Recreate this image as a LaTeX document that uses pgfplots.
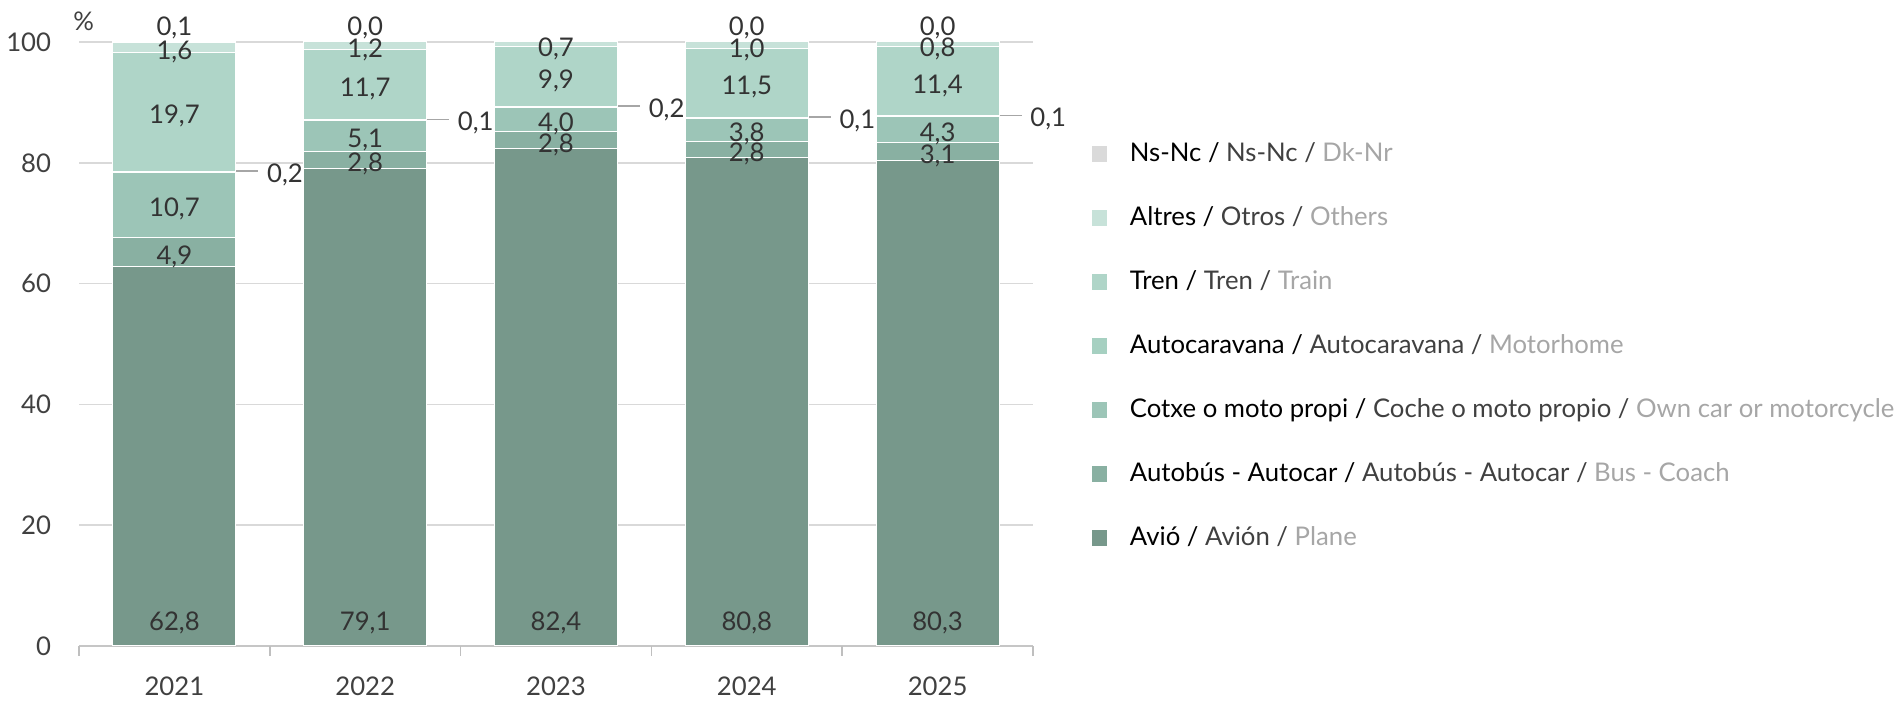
\documentclass[border=0pt]{standalone}
\usepackage{pgfplots}
\pgfplotsset{compat=1.18}
\usepackage{fontspec}
\setmainfont{Lato}

\definecolor{avio}{HTML}{77988B}
\definecolor{bus}{HTML}{89B0A2}
\definecolor{cotxe}{HTML}{9CC5B7}
\definecolor{caravana}{HTML}{A6D0C1}
\definecolor{tren}{HTML}{AFD5C8}
\definecolor{altres}{HTML}{C7E2D9}
\definecolor{nsnc}{HTML}{DADADA}
\definecolor{txt}{HTML}{333333}
\definecolor{gmid}{HTML}{404040}
\definecolor{glight}{HTML}{A6A6A6}
\definecolor{gridc}{HTML}{D9D9D9}

% labels of stacked segments already sit at the middle of the segment
\pgfplotsset{
  seg/.style={fill=#1, draw=white, line width=0.35pt,
    nodes near coords, point meta=rawy,
    every node near coord/.append style={anchor=center, inner sep=0pt,
      text depth=0pt, text=txt, yshift=-1pt,
      /pgf/number format/.cd, use comma, fixed, fixed zerofill, precision=1}},
  base/.style={fill=#1, draw=white, line width=0.35pt,
    nodes near coords, point meta=rawy,
    visualization depends on={rawy \as \rawy},
    every node near coord/.append style={anchor=center, inner sep=0pt,
      text depth=0pt, text=txt, yshift=8.67pt-1.057pt*\rawy,
      /pgf/number format/.cd, use comma, fixed, fixed zerofill, precision=1}},
  side/.style={fill=#1, draw=white, line width=0.35pt,
    nodes near coords={\textcolor{glight}{\rule[3.7pt]{7.7pt}{0.5pt}}\hspace{3.1pt}\pgfmathprintnumber{\pgfplotspointmeta}},
    point meta=rawy,
    every node near coord/.append style={anchor=base west, inner sep=0pt,
      text=txt, xshift=21.5pt, yshift=-3.7pt,
      /pgf/number format/.cd, use comma, fixed, fixed zerofill, precision=1}},
  top/.style={fill=#1, draw=white, line width=0.35pt,
    nodes near coords, point meta=explicit symbolic,
    every node near coord/.append style={anchor=base, inner sep=0pt,
      text=txt, yshift=2.4pt}},
}

\begin{document}
\fontsize{9}{11}\selectfont
\begin{tikzpicture}
\useasboundingbox (-27.65pt,-19.25pt) rectangle (638.4pt,226.1pt);
\begin{axis}[
    width=333.9pt,
    height=211.4pt,
    scale only axis,
    ybar stacked,
    bar width=0.645,
    xmin=-0.5, xmax=4.5,
    ymin=0, ymax=100,
    clip=false,
    xtick={0,...,4},
    xticklabels={2021,2022,2023,2024,2025},
    ytick={0,20,...,100},
    major tick length=0pt,
    extra x ticks={-0.5,0.5,...,4.5},
    extra x tick labels={},
    extra x tick style={major tick length=3.5pt, tick align=outside},
    tick style={draw=gray!50, line width=0.5pt},
    axis x line*=bottom,
    axis y line*=left,
    x axis line style={draw=gray!45, line width=0.5pt},
    y axis line style={draw=none},
    ymajorgrids,
    grid style={draw=gridc, line width=0.5pt},
    xticklabel style={anchor=center, inner sep=0pt, text depth=0pt, yshift=-14pt, text=gmid},
    yticklabel style={anchor=east, inner sep=0pt, xshift=-9.6pt, text=gmid},
    /pgf/number format/assume math mode=true,
    legend image code/.code={\fill[#1, draw=none] (0pt,-2.65pt) rectangle (5.3pt,2.65pt);},
    reverse legend,
    legend cell align=left,
    legend style={at={(1.0618,0.8676)}, anchor=north west, draw=none, fill=none,
      inner sep=0pt, outer sep=0pt, row sep=0pt,
      nodes={inner sep=0pt, minimum height=22.4pt},
      /tikz/every odd column/.append style={column sep=8pt}},
]

\addplot[base=avio] coordinates {(0,62.8) (1,79.1) (2,82.4) (3,80.8) (4,80.3)};
\addlegendentry{\textcolor{black}{Avió /} \textcolor{gmid}{Avión /} \textcolor{glight}{Plane}}

\addplot[seg=bus] coordinates {(0,4.9) (1,2.8) (2,2.8) (3,2.8) (4,3.1)};
\addlegendentry{\textcolor{black}{Autobús - Autocar /} \textcolor{gmid}{Autobús - Autocar /} \textcolor{glight}{Bus - Coach}}

\addplot[seg=cotxe] coordinates {(0,10.7) (1,5.1) (2,4.0) (3,3.8) (4,4.3)};
\addlegendentry{\textcolor{black}{Cotxe o moto propi /} \textcolor{gmid}{Coche o moto propio /} \textcolor{glight}{Own car or motorcycle}}

\addplot[side=caravana] coordinates {(0,0.2) (1,0.1) (2,0.2) (3,0.1) (4,0.1)};
\addlegendentry{\textcolor{black}{Autocaravana /} \textcolor{gmid}{Autocaravana /} \textcolor{glight}{Motorhome}}

\addplot[seg=tren] coordinates {(0,19.7) (1,11.7) (2,9.9) (3,11.5) (4,11.4)};
\addlegendentry{\textcolor{black}{Tren /} \textcolor{gmid}{Tren /} \textcolor{glight}{Train}}

\addplot[seg=altres] coordinates {(0,1.6) (1,1.2) (2,0.7) (3,1.0) (4,0.8)};
\addlegendentry{\textcolor{black}{Altres /} \textcolor{gmid}{Otros /} \textcolor{glight}{Others}}

\addplot[top=nsnc] coordinates {(0,0.1) [0,1] (1,0.01) [0,0] (2,0.0) [{}] (3,0.01) [0,0] (4,0.01) [0,0]};
\addlegendentry{\textcolor{black}{Ns-Nc /} \textcolor{gmid}{Ns-Nc /} \textcolor{glight}{Dk-Nr}}

\node[anchor=center, text=gmid, inner sep=0pt] at (axis description cs:0.005,1.035) {\%};
\end{axis}
\end{tikzpicture}
\end{document}
